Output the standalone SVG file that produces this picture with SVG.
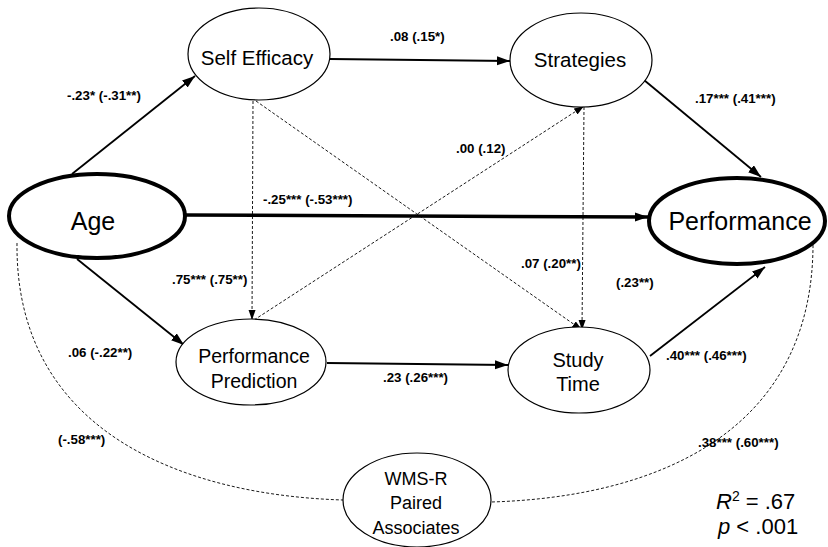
<svg xmlns="http://www.w3.org/2000/svg" width="828" height="547" viewBox="0 0 828 547">
<style>
.node{fill:#fff;stroke:#000;stroke-width:1.2}
.thick{fill:#fff;stroke:#000;stroke-width:4}
.lbl{font-family:"Liberation Sans",Arial,sans-serif;fill:#000;text-anchor:middle}
.el{font-family:"Liberation Sans",Arial,sans-serif;font-weight:bold;font-size:13.3px;fill:#000}
.solid{fill:none;stroke:#000;stroke-width:1.8}
.heavy{fill:none;stroke:#000;stroke-width:3.5}
.dash{fill:none;stroke:#000;stroke-width:0.9;stroke-dasharray:3,2}
</style>
<defs>
<marker id="ah" markerUnits="userSpaceOnUse" markerWidth="14" markerHeight="10" refX="13" refY="4.5" orient="auto">
<path d="M0,0 L13,4.5 L0,9 z" fill="#000"/>
</marker>
<marker id="ahs" markerUnits="userSpaceOnUse" markerWidth="12" markerHeight="8" refX="10" refY="3.5" orient="auto">
<path d="M0,0 L10,3.5 L0,7 z" fill="#000"/>
</marker>
</defs>
<rect width="828" height="547" fill="#fff"/>
<g id="connectors">
<path class="solid" d="M72,174 L195,76" marker-end="url(#ah)"/>
<path class="solid" d="M330,59 L510,61" marker-end="url(#ah)"/>
<path class="solid" d="M644,80 L761,177" marker-end="url(#ah)"/>
<path class="heavy" d="M185,215 L648,217" marker-end="url(#ah)"/>
<path class="solid" d="M77,259 L184,345" marker-end="url(#ah)"/>
<path class="solid" d="M327,363 L508,365" marker-end="url(#ah)"/>
<path class="solid" d="M650,356 L765,267" marker-end="url(#ah)"/>
<path class="dash" d="M253,101 L252,320" marker-end="url(#ahs)"/>
<path class="dash" d="M256,101 L582,330" marker-end="url(#ahs)"/>
<path class="dash" d="M254,320 L584,106" marker-end="url(#ahs)"/>
<path class="dash" d="M584,107 L582,330" marker-end="url(#ahs)"/>
<path class="dash" d="M17,243 C15,430 180,495 343,500"/>
<path class="dash" d="M813,240 C815,430 660,497 491,502"/>
</g>
<g id="age"><ellipse class="thick" cx="97" cy="216" rx="88" ry="42"/><text class="lbl" x="93" y="230" font-size="25">Age</text></g>
<g id="self-efficacy"><ellipse class="node" cx="259" cy="54" rx="71" ry="46"/><text class="lbl" x="257" y="65" font-size="20.5">Self Efficacy</text></g>
<g id="strategies"><ellipse class="node" cx="581" cy="60" rx="71" ry="47"/><text class="lbl" x="580" y="67" font-size="20.5">Strategies</text></g>
<g id="performance"><ellipse class="thick" cx="737" cy="221" rx="88" ry="43"/><text class="lbl" x="740" y="230" font-size="25">Performance</text></g>
<g id="performance-prediction"><ellipse class="node" cx="251" cy="362" rx="75" ry="43"/><text class="lbl" x="254" y="363" font-size="19.5">Performance</text><text class="lbl" x="254" y="388" font-size="19.5">Prediction</text></g>
<g id="study-time"><ellipse class="node" cx="579" cy="370" rx="71" ry="43"/><text class="lbl" x="578" y="367" font-size="20">Study</text><text class="lbl" x="578" y="391" font-size="20">Time</text></g>
<g id="wms-r"><ellipse class="node" cx="417" cy="500" rx="74" ry="47"/><text class="lbl" x="416" y="485" font-size="18">WMS-R</text><text class="lbl" x="416" y="509" font-size="18">Paired</text><text class="lbl" x="416" y="534" font-size="18">Associates</text></g>
<g id="edge-labels">
<text class="el" x="67" y="100">-.23* (-.31**)</text>
<text class="el" x="390" y="41">.08 (.15*)</text>
<text class="el" x="695" y="103">.17*** (.41***)</text>
<text class="el" x="456" y="153">.00 (.12)</text>
<text class="el" x="263" y="204">-.25*** (-.53***)</text>
<text class="el" x="172" y="284">.75*** (.75**)</text>
<text class="el" x="521" y="268">.07 (.20**)</text>
<text class="el" x="616" y="287">(.23**)</text>
<text class="el" x="68" y="357">.06 (-.22**)</text>
<text class="el" x="383" y="382">.23 (.26***)</text>
<text class="el" x="666" y="360">.40*** (.46***)</text>
<text class="el" x="58" y="444">(-.58***)</text>
<text class="el" x="698" y="447">.38*** (.60***)</text>
</g>
<g id="stats" font-family="'Liberation Sans',Arial,sans-serif" font-size="22" fill="#000">
<text x="716" y="509"><tspan font-style="italic">R</tspan><tspan font-size="14" dy="-8">2</tspan><tspan dy="8"> = .67</tspan></text>
<text x="718" y="534"><tspan font-style="italic">p</tspan> &lt; .001</text>
</g>
</svg>
